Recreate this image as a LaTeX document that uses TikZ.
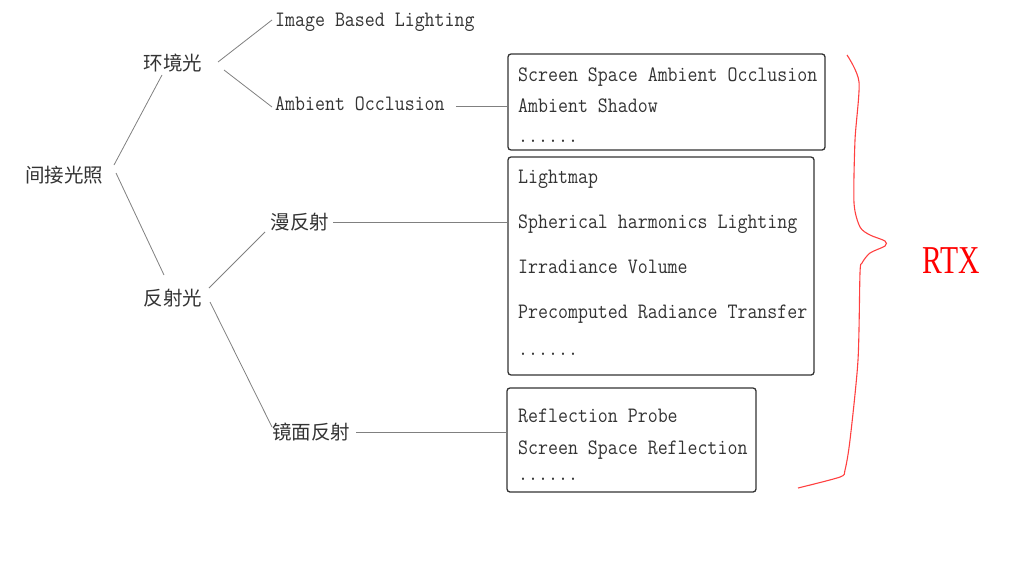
\documentclass[tikz,border=0pt]{standalone}
\usepackage{fontspec}
\newfontfamily\leaffont{Latin Modern Mono}[FakeStretch=0.88]
\newfontfamily\cjkfont{Noto Sans CJK SC}
\newfontfamily\rtxfont{Liberation Serif}[FakeStretch=0.75]
\begin{document}
\begin{tikzpicture}[x=1pt,y=-1pt,
    branch/.style={font=\cjkfont\fontsize{19.5}{22}\selectfont, text=black!80, inner sep=0pt},
    leaf/.style={font=\leaffont\fontsize{22}{26}\selectfont, text=black!80, inner sep=0pt,
      anchor=base west, text height=14pt, text depth=7pt},
    twig/.style={draw=black!50, line width=0.8pt},
    listbox/.style={draw=black!80, line width=1.3pt, rounded corners=3pt, inner sep=0pt}]
      \useasboundingbox (0,0) rectangle (1024,570);

      % tree
      \node[branch] (root) at (64,175) {间接光照};
      \node[branch] (env)  at (173,63)  {环境光};
      \node[branch] (refl) at (173,298) {反射光};
      \node[leaf]   (ibl)  at (275,27)  {Image Based Lighting};
      \node[leaf]   (ao)   at (275,110) {Ambient Occlusion};
      \node[branch] (diff) at (300,222) {漫反射};
      \node[branch] (spec) at (311,432) {镜面反射};

      \draw[twig] ([shift={(50,-10)}]root.center) -- ([shift={(-11,12)}]env.center);
      \draw[twig] ([shift={(52,-2)}]root.center)  -- ([shift={(-9,-23)}]refl.center);
      \draw[twig] ([shift={(45,-1)}]env.center)   -- ([shift={(-3,-7)}]ibl.base west);
      \draw[twig] ([shift={(51,7)}]env.center)    -- ([shift={(-3,-3)}]ao.base west);
      \draw[twig] ([shift={(36,-10)}]refl.center) -- ([shift={(-35,10)}]diff.center);
      \draw[twig] ([shift={(37,4)}]refl.center)   -- ([shift={(-39,-5)}]spec.center);

      % boxes
      \node[listbox, minimum width=317pt, minimum height=96pt]  (aobox)   at (666.5,102) {};
      \node[listbox, minimum width=306pt, minimum height=218pt] (diffbox) at (661,266)   {};
      \node[listbox, minimum width=249pt, minimum height=104pt] (specbox) at (631.5,440) {};

      \node[leaf] (ssao)  at (518,81)  {Screen Space Ambient Occlusion};
      \node[leaf] (ashd)  at (518,112) {Ambient Shadow};
      \node[leaf] (aoetc) at (518,142) {......};

      \node[leaf] (lmap)  at (518,183) {Lightmap};
      \node[leaf] (shl)   at (518,228) {Spherical harmonics Lighting};
      \node[leaf] (ivol)  at (518,273) {Irradiance Volume};
      \node[leaf] (prt)   at (518,318) {Precomputed Radiance Transfer};
      \node[leaf] (dfetc) at (518,355) {......};

      \node[leaf] (rprb)  at (518,422) {Reflection Probe};
      \node[leaf] (ssr)   at (518,454) {Screen Space Reflection};
      \node[leaf] (spetc) at (518,480) {......};

      \draw[twig] ([xshift=11pt]ao.east)  -- (ao.east -| aobox.west);
      \draw[twig] ([xshift=4pt]diff.east) -- (diff.east -| diffbox.west);
      \draw[twig] ([xshift=6pt]spec.east) -- (spec.east -| specbox.west);

      % brace
      \draw[red!75, line width=1.1pt] plot[smooth, tension=0.45] coordinates {(847,55) (859,82) (855,140)
        (854,203) (860,227) (870,235) (885,241) (885,246) (870,253) (862,263) (860,273) (858,360)
        (850,440) (845,470) (840,477) (798,488)};
      \node[font=\rtxfont\fontsize{39.5}{44}\selectfont, text=red, inner sep=0pt, anchor=base west]
        (rtx) at (922,273) {RTX};
    \end{tikzpicture}
\end{document}
